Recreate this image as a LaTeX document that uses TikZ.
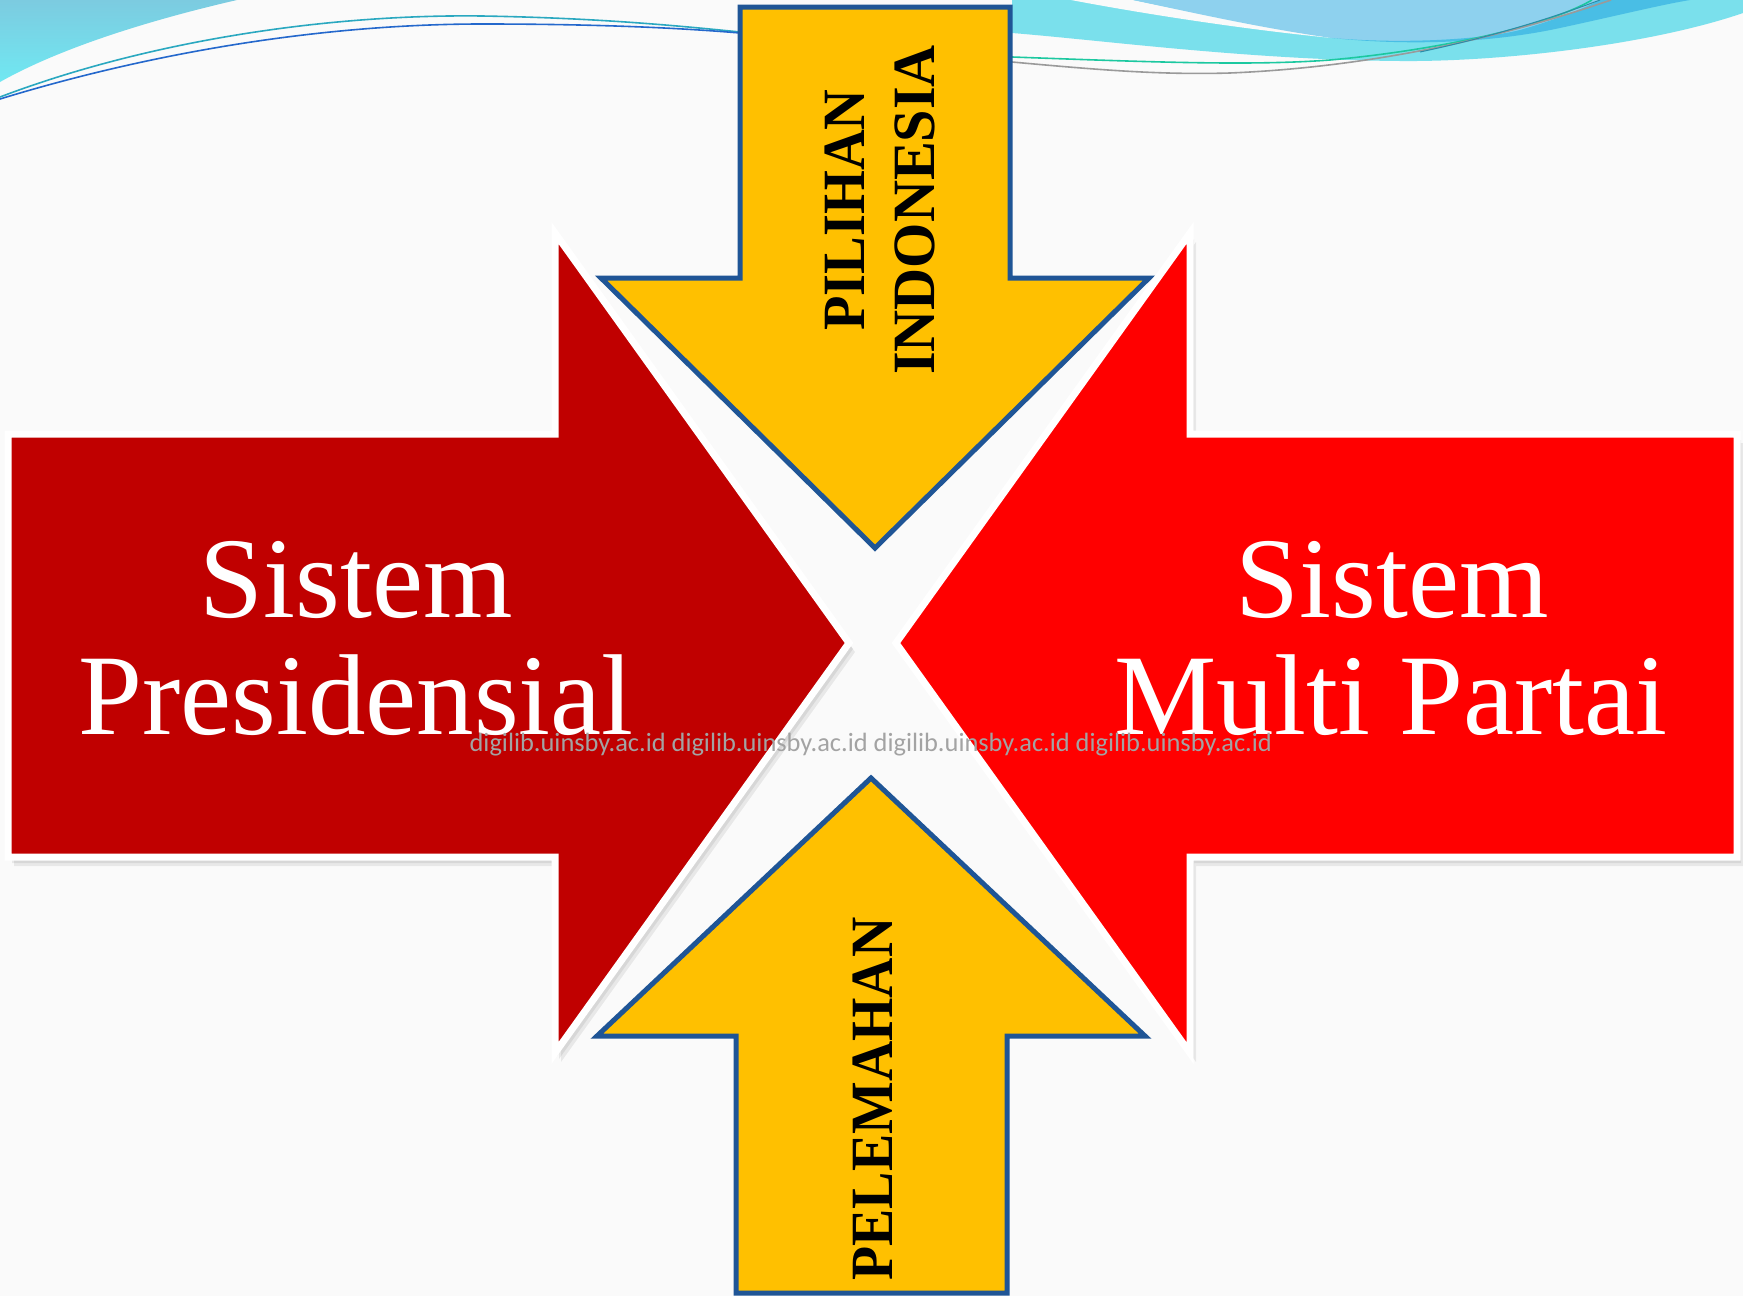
\documentclass[tikz,border=0pt]{standalone}
\usepackage{fontspec}
\setmainfont{Liberation Serif}
\newfontfamily\wmfont{Carlito}
\definecolor{bgc}{HTML}{FAFAFA}
\definecolor{darkred}{HTML}{C00000}
\definecolor{brightred}{HTML}{FF0000}
\definecolor{gold}{HTML}{FFC000}
\definecolor{edgeblue}{HTML}{1F5596}
\definecolor{cyanwave}{HTML}{7AE0EC}
\definecolor{cyantop}{HTML}{7CCBE0}
\definecolor{cyanlow}{HTML}{70E8F2}
\definecolor{skywave}{HTML}{8ED1EE}
\definecolor{deepwave}{HTML}{49BEE5}
\definecolor{tealline}{HTML}{2AA8C0}
\definecolor{blueline}{HTML}{2468CC}
\definecolor{greenline}{HTML}{1CC8A0}
\definecolor{grayline}{HTML}{9A9A9A}
\definecolor{darktealline}{HTML}{2A8CA8}
\definecolor{wmgray}{HTML}{A3A3A3}
\newcommand\leftshape[1]{\path[#1] (8,434) -- (555,434) -- (555,233) -- (849,643) -- (555,1053) -- (555,857) -- (8,857) -- cycle;}
\newcommand\rightshape[1]{\path[#1] (1737,434) -- (1190,434) -- (1190,233) -- (896,643) -- (1190,1053) -- (1190,857) -- (1737,857) -- cycle;}
\tikzset{
  redarrow/.style={draw=white, line width=7pt, line join=miter},
  yellowarrow/.style={fill=gold, draw=edgeblue, line width=5pt, line join=miter},
  bigtext/.style={anchor=base, text=white, inner sep=0pt, font=\fontsize{115}{117}\selectfont},
  labeltext/.style={anchor=base, text=black, inner sep=0pt, rotate=90, align=center, font=\bfseries\fontsize{60}{70}\selectfont},
  shadowlayer/.style={fill=black, opacity=0.07},
  waveline/.style={line width=1.6pt}
}
\begin{document}
\begin{tikzpicture}[x=1pt,y=-1pt]
\useasboundingbox (0,0) rectangle (1743,1296);
\fill[bgc] (0,0) rectangle (1743,1296);
% top-left wave
\shade[top color=cyantop, bottom color=cyanlow] (0,0) -- (237,0) .. controls (150,20) and (60,48) .. (0,82) -- cycle;
\draw[waveline, tealline] (0,97) .. controls (150,40) and (330,14) .. (482,16) .. controls (600,18) and (680,26) .. (740,32);
\draw[waveline, blueline] (0,99) .. controls (160,50) and (330,24) .. (482,24) .. controls (600,24) and (680,28) .. (740,33);
% top-right wave
\fill[cyanwave] (1012,0) -- (1743,0) -- (1743,13) .. controls (1650,45) and (1500,62) .. (1400,61) .. controls (1250,60) and (1100,40) .. (1012,33) -- cycle;
\fill[bgc] (1071,0) .. controls (1150,15) and (1250,30) .. (1332,38) .. controls (1260,25) and (1190,12) .. (1133,0) -- cycle;
\fill[skywave] (1133,0) .. controls (1190,12) and (1260,28) .. (1332,38) .. controls (1400,44) and (1480,40) .. (1520,30) .. controls (1555,20) and (1580,10) .. (1600,0) -- cycle;
\fill[deepwave] (1332,38) .. controls (1420,47) and (1500,41) .. (1560,28) .. controls (1620,15) and (1660,5) .. (1690,0) -- (1600,0) .. controls (1580,10) and (1555,20) .. (1520,30) .. controls (1480,40) and (1400,44) .. (1332,38) -- cycle;
\draw[waveline, greenline] (1012,57) .. controls (1150,62) and (1250,66) .. (1330,60) .. controls (1420,52) and (1540,30) .. (1592,0);
\draw[waveline, grayline] (1012,62) .. controls (1100,70) and (1160,75) .. (1230,73) .. controls (1350,68) and (1480,45) .. (1611,0);
\draw[line width=1pt, darktealline] (1420,52) .. controls (1500,35) and (1560,15) .. (1600,0);
% yellow arrows
\path[yellowarrow] (740,7) -- (1010,7) -- (1010,278) -- (1149,278) -- (875,548) -- (601,278) -- (740,278) -- cycle;
\path[yellowarrow] (736,1293) -- (1007,1293) -- (1007,1036) -- (1145,1036) -- (871,778) -- (597,1036) -- (736,1036) -- cycle;
% red arrow shadows
\foreach \s in {{(2,3)},{(4,6)},{(6,9)}}{
  \leftshape{shadowlayer, shift=\s}
  \rightshape{shadowlayer, shift=\s}
}
% red arrows
\leftshape{redarrow, fill=darkred}
\rightshape{redarrow, fill=brightred}
% texts
\node[bigtext] (ls1) at (356,617) {Sistem};
\node[bigtext] (ls2) at (356,734) {Presidensial};
\node[bigtext] (rs1) at (1392,617) {Sistem};
\node[bigtext] (rs2) at (1391,734) {Multi Partai};
\node[labeltext] (top1) at (864,210) {\scalebox{0.94}[1]{PILIHAN}};
\node[labeltext] (top2) at (934,210) {\scalebox{0.97}[1]{INDONESIA}};
\node[labeltext] (bot) at (892,1099) {\scalebox{0.93}[1]{PELEMAHAN}};
\node[anchor=base, text=wmgray, inner sep=0pt, font=\wmfont\fontsize{26.4}{28}\selectfont] (wm) at (871,751) {digilib.uinsby.ac.id digilib.uinsby.ac.id digilib.uinsby.ac.id digilib.uinsby.ac.id};
\end{tikzpicture}
\end{document}
